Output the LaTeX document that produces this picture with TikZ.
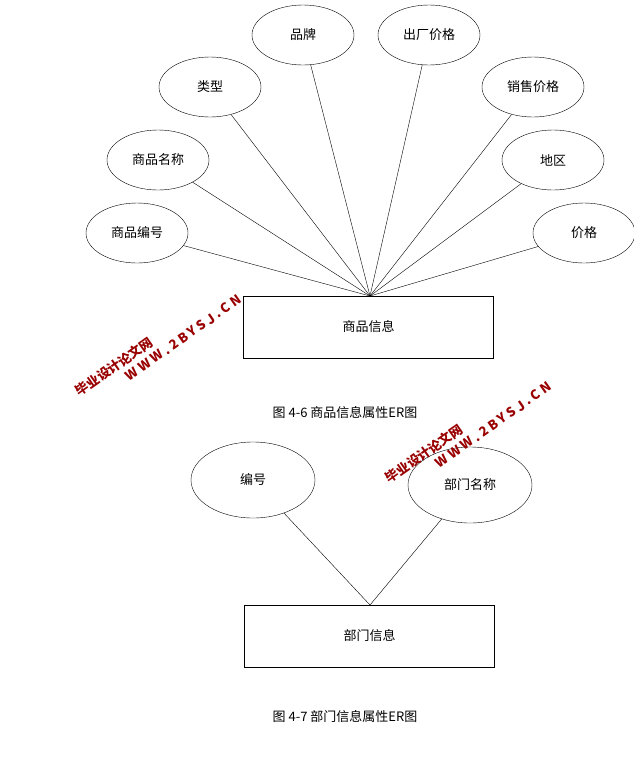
\documentclass[tikz,border=0pt]{standalone}
\usepackage{fontspec}
\setmainfont{Liberation Serif}
\newfontfamily\cjk{Noto Sans CJK SC}
\usetikzlibrary{shapes.geometric}
\begin{document}
\begin{tikzpicture}[x=1pt,y=-1pt,
  attr/.style={draw,ellipse,minimum width=102pt,minimum height=60pt,inner sep=0pt,font=\cjk\fontsize{13}{15}\selectfont},
  big/.style={draw,ellipse,minimum width=124pt,minimum height=76pt,inner sep=0pt,font=\cjk\fontsize{13}{15}\selectfont},
  ent/.style={draw,rectangle,minimum width=250pt,minimum height=62pt,font=\cjk\fontsize{13}{15}\selectfont},
  captxt/.style={font=\cjk\fontsize{13}{15}\selectfont},
  wm/.style={text=red!60!black,font=\cjk\bfseries\fontsize{13}{16}\selectfont,rotate=35,align=left}]
\useasboundingbox (0,0) rectangle (634,780);
\node[attr] (pp) at (303,35) {品牌};
\node[attr] (cc) at (429,35) {出厂价格};
\node[attr] (lx) at (210,87) {类型};
\node[attr] (xs) at (533,87) {销售价格};
\node[attr] (mc) at (158,160) {商品名称};
\node[attr] (dq) at (553,160) {地区};
\node[attr] (bh) at (137,233) {商品编号};
\node[attr] (jg) at (584,233) {价格};
\node[ent] (sp) at (368.5,327) {商品信息};
\coordinate (hub) at (370,296);
\foreach \n in {pp,cc,lx,xs,mc,dq,bh,jg} \draw (\n) -- (hub);
\node[captxt] (c1) at (345,413) {图 4-6 商品信息属性ER图};
\node[big] (b1) at (253,480) {编号};
\node[big] (b2) at (470,485) {部门名称};
\node[ent] (bm) at (369.5,636) {部门信息};
\coordinate (hub2) at (370,605);
\draw (b1) -- (hub2);
\draw (b2) -- (hub2);
\node[captxt] (c2) at (345,717) {图 4-7 部门信息属性ER图};
\node[wm] (w1) at (158,345) {毕业设计论文网\\\hspace*{50pt}W W W . 2 B Y S J . C N};
\node[wm] (w2) at (468,432) {毕业设计论文网\\\hspace*{50pt}W W W . 2 B Y S J . C N};
\end{tikzpicture}
\end{document}
